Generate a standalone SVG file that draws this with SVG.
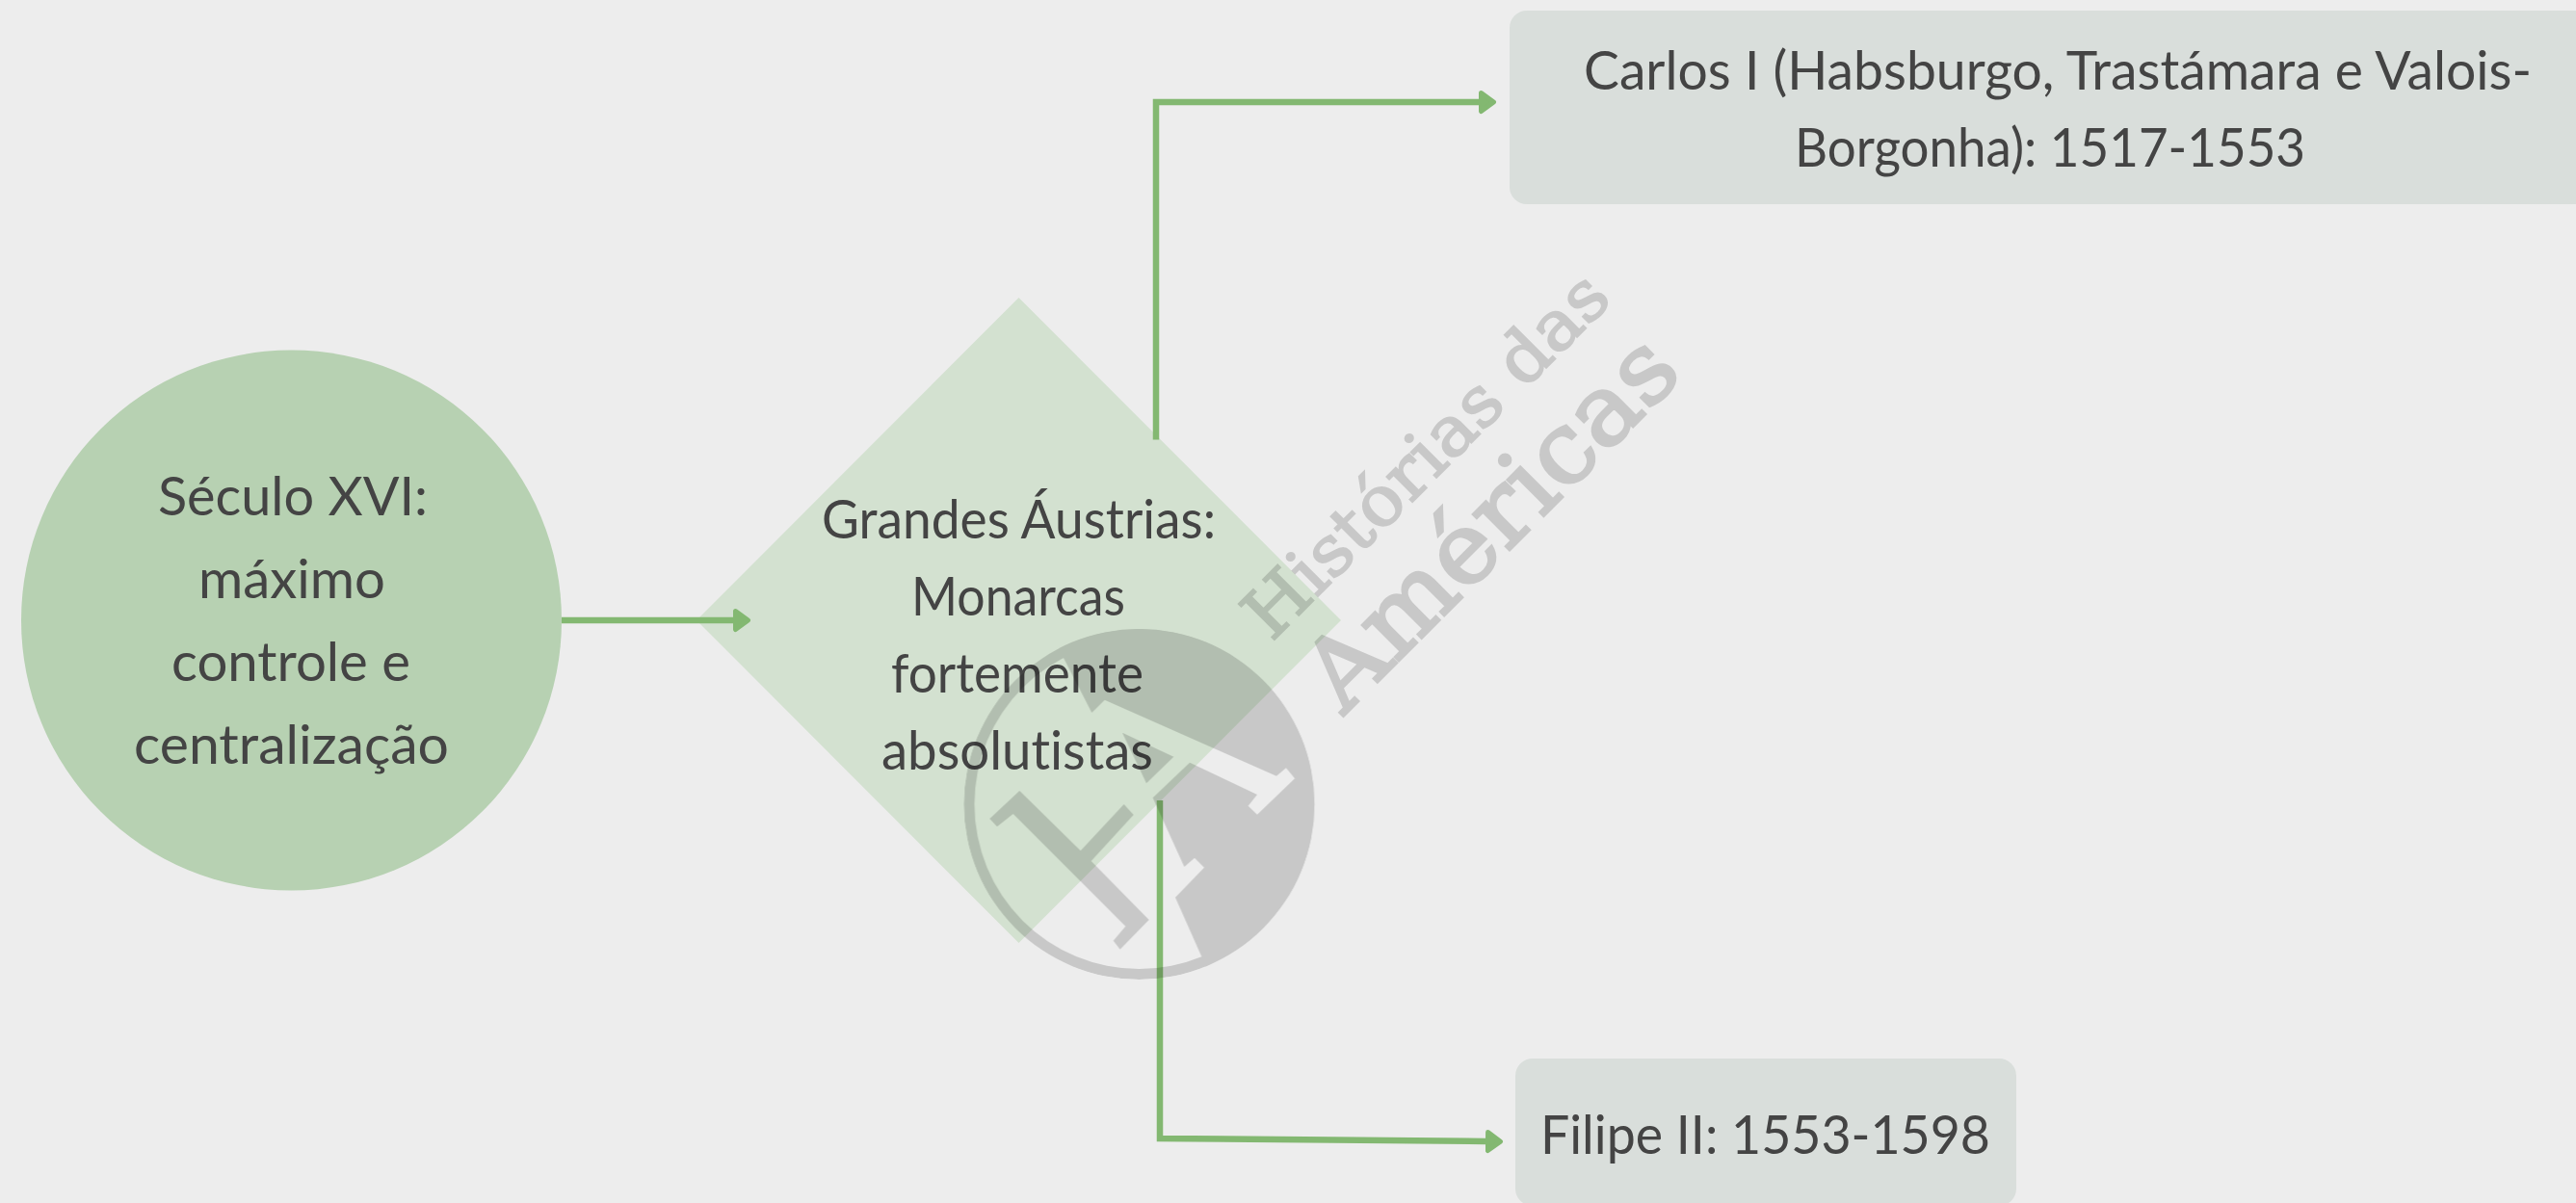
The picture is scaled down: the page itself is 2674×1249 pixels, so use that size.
<svg xmlns="http://www.w3.org/2000/svg" width="2674" height="1249" viewBox="0 0 2674 1249">
<style>
.t{font-family:"Lato","Noto Sans",sans-serif;font-size:57px;fill:#444444;font-variant-ligatures:none}
.c{fill:none;stroke:#83b871;stroke-width:6.500;stroke-linejoin:miter;stroke-linecap:butt}
.w{font-family:"DejaVu Serif",serif;font-weight:400;stroke:#000000}
</style>
<defs>
<marker id="arrow" markerUnits="userSpaceOnUse" markerWidth="20" markerHeight="26" refX="0" refY="13" orient="auto" viewBox="0 0 20 26"><path d="M2.500 3.500L15.500 13L2.500 22.500Z" fill="#83b871" stroke="#83b871" stroke-width="5" stroke-linejoin="round"/></marker>
<clipPath id="disc"><circle cx="577.5" cy="585" r="546"/></clipPath>
</defs>
<rect width="2674" height="1249" fill="#ededed"/>
<g id="node-seculo">
<circle cx="302.5" cy="644" r="280.500" fill="#b7d1b2"/>
<text class="t" x="164" y="535" textLength="280" lengthAdjust="spacingAndGlyphs">Século XVI:</text>
<text class="t" x="206" y="621" textLength="194" lengthAdjust="spacingAndGlyphs">máximo</text>
<text class="t" x="178" y="707" textLength="248" lengthAdjust="spacingAndGlyphs">controle e</text>
<text class="t" x="139" y="793" textLength="327" lengthAdjust="spacingAndGlyphs">centralização</text>
</g>
<g id="node-grandes">
<polygon points="1057.5,309 1392,644 1057.5,979 723,644" fill="#d3e1d0"/>
<text class="t" x="853" y="559" textLength="409" lengthAdjust="spacingAndGlyphs">Grandes Áustrias:</text>
<text class="t" x="946" y="639" textLength="222" lengthAdjust="spacingAndGlyphs">Monarcas</text>
<text class="t" x="925" y="719" textLength="262" lengthAdjust="spacingAndGlyphs">fortemente</text>
<text class="t" x="915" y="799" textLength="282" lengthAdjust="spacingAndGlyphs">absolutistas</text>
</g>
<g id="node-carlos">
<rect x="1567" y="11" width="1130" height="201" rx="18" fill="#d9dedb"/>
<text class="t" x="1644" y="93" textLength="984" lengthAdjust="spacingAndGlyphs">Carlos I (Habsburgo, Trastámara e Valois-</text>
<text class="t" x="1863" y="173" textLength="530" lengthAdjust="spacingAndGlyphs">Borgonha): 1517-1553</text>
</g>
<g id="node-filipe">
<rect x="1573" y="1099" width="520" height="153" rx="18" fill="#d9dedb"/>
<text class="t" x="1599" y="1198" textLength="467" lengthAdjust="spacingAndGlyphs">Filipe II: 1553-1598</text>
</g>
<g id="connectors">
<path class="c" d="M583 644H761" marker-end="url(#arrow)"/>
<path class="c" d="M1200 456.500V106H1535" marker-end="url(#arrow)"/>
<path class="c" d="M1204 831V1182L1542 1185" marker-end="url(#arrow)"/>
</g>
<g id="watermark" fill="#000000" opacity="0.155">
<g transform="translate(990 640) scale(.33333)">
<path clip-path="url(#disc)" fill-rule="evenodd" d="M1123.500 585A546 546 0 1 0 31.500 585A546 546 0 1 0 1123.500 585ZM1090.500 585A513 513 0 1 1 64.500 585A513 513 0 1 1 1090.500 585Z"/>
<path clip-path="url(#disc)" d="M260 -30L345 135L430 300L470 260L1005 497L1035 472L1062 505L945 617L917 590L945 555L735 455L620 565L718 780L750 752L780 782L690 875L770 1055L850 1250L1300 1250L1300 -100Z"/>
<polygon points="525,362 685,437 600,520"/>
<polygon points="205,543 395,730 530,585 560,618 428,762 608,945 518,1037 497,1010 535,965 185,615 135,655 112,630"/>
</g>
<text class="w" x="1320" y="667" font-size="72" stroke-width="2" textLength="502" lengthAdjust="spacingAndGlyphs" transform="rotate(-45 1320 667)">Histórias das</text>
<text class="w" x="1395" y="743" font-size="102" stroke-width="3" textLength="500" lengthAdjust="spacingAndGlyphs" transform="rotate(-45 1395 743)">Américas</text>
</g>
</svg>
